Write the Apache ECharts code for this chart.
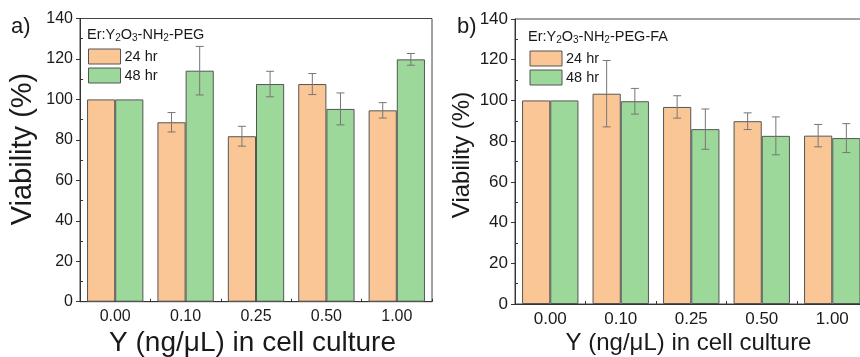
<!DOCTYPE html>
<html>
<head>
<meta charset="utf-8">
<script src="https://cdn.jsdelivr.net/npm/echarts@6/dist/echarts.min.js"></script>
<style>
  html, body { margin: 0; padding: 0; background: #fff; }
  #chart { width: 860px; height: 357px; }
</style>
</head>
<body>
<div id="chart"></div>
<script>
// 浓度分类
var categories = ['0.00', '0.10', '0.25', '0.50', '1.00']
var yTicks = [0, 20, 40, 60, 80, 100, 120, 140]

// a) Er:Y2O3-NH2-PEG
var pegMean24 = [100, 88.7, 81.8, 107.6, 94.6]
var pegErr24 = [0, 4.8, 4.9, 5.2, 3.8]
var pegMean48 = [100, 114.2, 107.6, 95.3, 119.8]
var pegErr48 = [0, 12, 6.3, 7.9, 2.9]

// b) Er:Y2O3-NH2-PEG-FA
var faMean24 = [100, 103.3, 96.8, 89.8, 82.7]
var faErr24 = [0, 16.3, 5.5, 4.1, 5.5]
var faMean48 = [100, 99.6, 85.9, 82.6, 81.5]
var faErr48 = [0, 6.3, 9.9, 9.3, 7.1]

var FONT = 'Liberation Sans, Arial, sans-serif'
var ORANGE = '#fbc696'
var GREEN = '#9dd89b'
var TEXT = '#1a1a1a'

function errData (mean, err) {
  return mean.map(function (m, i) { return [i, m, err[i]] })
}

// 误差线
function errorBar (side) {
  return function (params, api) {
    var err = api.value(2)
    if (!err) return null
    var band = api.size([1, 0])[0]
    var top = api.coord([api.value(0), api.value(1) + err])
    var bot = api.coord([api.value(0), api.value(1) - err])
    var x = top[0] + side * band * 0.2
    var cap = 4
    var style = { stroke: '#767676', lineWidth: 1 }
    return {
      type: 'group',
      children: [
        { type: 'line', shape: { x1: x, y1: top[1], x2: x, y2: bot[1] }, style: style },
        { type: 'line', shape: { x1: x - cap, y1: top[1], x2: x + cap, y2: top[1] }, style: style },
        { type: 'line', shape: { x1: x - cap, y1: bot[1], x2: x + cap, y2: bot[1] }, style: style }
      ]
    }
  }
}

function xAxisOf (grid, size) {
  return {
    type: 'category',
    gridIndex: grid,
    data: categories,
    axisLine: { lineStyle: { color: '#333', width: 1 } },
    axisTick: { show: true, inside: true, length: 3, lineStyle: { color: '#333' } },
    axisLabel: { fontSize: size, color: TEXT, fontFamily: FONT, margin: 7 }
  }
}

function yAxisOf (grid, size) {
  return {
    type: 'value',
    gridIndex: grid,
    min: yTicks[0],
    max: yTicks[yTicks.length - 1],
    interval: 20,
    axisLine: { show: true, lineStyle: { color: '#333', width: 1 } },
    axisTick: { show: true, length: 4, lineStyle: { color: '#333' } },
    axisLabel: { fontSize: size, color: TEXT, fontFamily: FONT, margin: 7 },
    splitLine: { show: false }
  }
}

// 内侧小刻度
function minorAxisOf (grid) {
  return {
    type: 'value',
    gridIndex: grid,
    position: 'left',
    min: 0,
    max: 140,
    interval: 20,
    axisLine: { show: false },
    axisTick: { show: false, inside: true },
    minorTick: { show: true, splitNumber: 2, length: 3, lineStyle: { color: '#333' } },
    axisLabel: { show: false },
    splitLine: { show: false }
  }
}

function legendTitle (x, y, tail) {
  return {
    type: 'text',
    left: x,
    top: y,
    style: {
      text: '{n|Er:Y}{s|2}{n|O}{s|3}{n|-NH}{s|2}{n|' + tail + '}',
      rich: {
        n: { fontSize: 14.5, fontFamily: FONT, fill: TEXT, lineHeight: 18, verticalAlign: 'middle' },
        s: { fontSize: 10, fontFamily: FONT, fill: TEXT, lineHeight: 9, verticalAlign: 'bottom' }
      }
    }
  }
}

var barStyle = function (c) {
  return { color: c, borderColor: '#555', borderWidth: 1 }
}

var myChart = echarts.init(document.getElementById('chart'), null, { renderer: 'canvas' })
myChart.setOption({
  backgroundColor: '#fff',
  animation: false,
  grid: [
    { left: 80, top: 18.5, width: 352, height: 283.2, show: true, borderColor: '#444', borderWidth: 1, outerBoundsMode: 'none' },
    { left: 515, top: 19, width: 352.5, height: 285, show: true, borderColor: '#444', borderWidth: 1, outerBoundsMode: 'none' }
  ],
  legend: [
    {
      orient: 'vertical', left: 88, top: 48.5, padding: 0, itemWidth: 32, itemHeight: 15, itemGap: 3,
      icon: 'rect', data: ['24 hr', '48 hr'],
      itemStyle: { borderColor: '#555', borderWidth: 1 },
      textStyle: { fontSize: 14.5, color: TEXT, fontFamily: FONT, padding: [0, 0, 0, -1] }
    },
    {
      orient: 'vertical', left: 529.5, top: 50.5, padding: 0, itemWidth: 32, itemHeight: 15, itemGap: 3,
      icon: 'rect', data: ['24 hr', '48 hr'],
      itemStyle: { borderColor: '#555', borderWidth: 1 },
      textStyle: { fontSize: 14.5, color: TEXT, fontFamily: FONT, padding: [0, 0, 0, -1] }
    }
  ],
  xAxis: [xAxisOf(0, 16), xAxisOf(1, 17)],
  yAxis: [yAxisOf(0, 16), yAxisOf(1, 17), minorAxisOf(0), minorAxisOf(1)],
  graphic: [
    { type: 'text', left: 11, top: 16, style: { text: 'a)', fontSize: 22, fontFamily: FONT, fill: TEXT } },
    { type: 'text', left: 457, top: 16, style: { text: 'b)', fontSize: 22, fontFamily: FONT, fill: TEXT } },
    legendTitle(87, 27, '-PEG'),
    legendTitle(528, 29, '-PEG-FA'),
    {
      type: 'text', x: 23, y: 149, rotation: Math.PI / 2,
      style: { text: 'Viability (%)', fontSize: 29, fontFamily: FONT, fill: TEXT, align: 'center', verticalAlign: 'middle' }
    },
    {
      type: 'text', x: 462, y: 155, rotation: Math.PI / 2,
      style: { text: 'Viability (%)', fontSize: 24, fontFamily: FONT, fill: TEXT, align: 'center', verticalAlign: 'middle' }
    },
    {
      type: 'text', x: 252.5, y: 343,
      style: { text: 'Y (ng/μL) in cell culture', fontSize: 28, fontFamily: FONT, fill: TEXT, align: 'center', verticalAlign: 'middle' }
    },
    {
      type: 'text', x: 688.5, y: 343.5,
      style: { text: 'Y (ng/μL) in cell culture', fontSize: 24, fontFamily: FONT, fill: TEXT, align: 'center', verticalAlign: 'middle' }
    }
  ],
  series: [
    { name: '24 hr', type: 'bar', xAxisIndex: 0, yAxisIndex: 0, data: pegMean24, barGap: '0%', barCategoryGap: '20%', itemStyle: barStyle(ORANGE) },
    { name: '48 hr', type: 'bar', xAxisIndex: 0, yAxisIndex: 0, data: pegMean48, barGap: '0%', barCategoryGap: '20%', itemStyle: barStyle(GREEN) },
    { name: '24 hr', type: 'bar', xAxisIndex: 1, yAxisIndex: 1, data: faMean24, barGap: '0%', barCategoryGap: '20%', itemStyle: barStyle(ORANGE) },
    { name: '48 hr', type: 'bar', xAxisIndex: 1, yAxisIndex: 1, data: faMean48, barGap: '0%', barCategoryGap: '20%', itemStyle: barStyle(GREEN) },
    { name: 'errA24', type: 'custom', xAxisIndex: 0, yAxisIndex: 0, z: 5, renderItem: errorBar(-1), data: errData(pegMean24, pegErr24) },
    { name: 'errA48', type: 'custom', xAxisIndex: 0, yAxisIndex: 0, z: 5, renderItem: errorBar(1), data: errData(pegMean48, pegErr48) },
    { name: 'errB24', type: 'custom', xAxisIndex: 1, yAxisIndex: 1, z: 5, renderItem: errorBar(-1), data: errData(faMean24, faErr24) },
    { name: 'errB48', type: 'custom', xAxisIndex: 1, yAxisIndex: 1, z: 5, renderItem: errorBar(1), data: errData(faMean48, faErr48) }
  ]
})
</script>
</body>
</html>
